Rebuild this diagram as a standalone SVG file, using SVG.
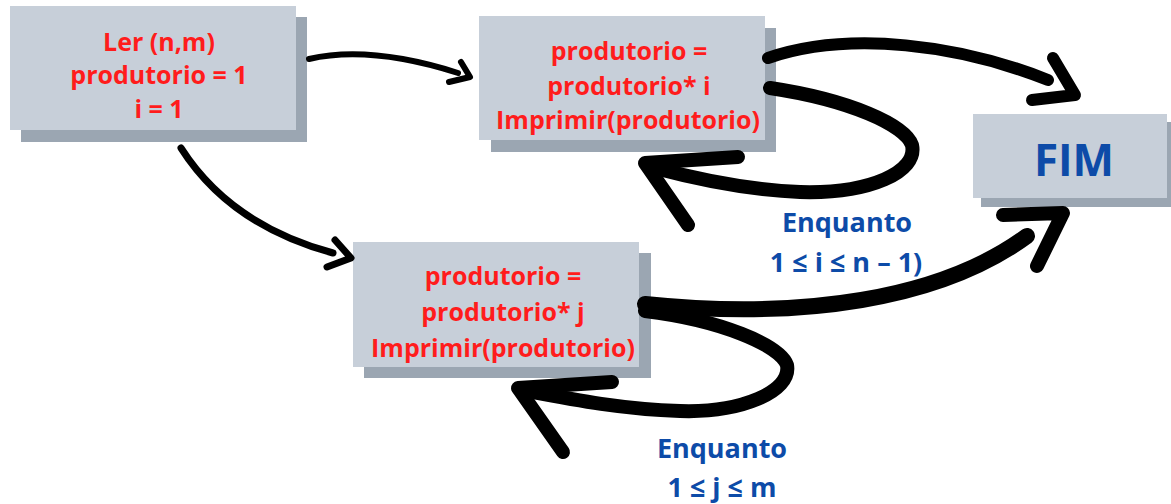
<svg xmlns="http://www.w3.org/2000/svg" width="1171" height="504" viewBox="0 0 1171 504">
  <style>
    .shadow { fill: #9ba6b2; }
    .card { fill: #c7cfd9; }
    .step { font-family: "Open Sans", "Liberation Sans", sans-serif; font-weight: 700; font-size: 25px; fill: #ff1c1c; text-anchor: middle; }
    .cond { font-family: "Open Sans", "Liberation Sans", sans-serif; font-weight: 700; font-size: 27px; fill: #0d4ba8; text-anchor: middle; }
    .end { font-family: "Open Sans", "Liberation Sans", sans-serif; font-weight: 700; font-size: 44px; fill: #0d4ba8; text-anchor: middle; }
    .ink { fill: none; stroke: #000; stroke-linecap: round; stroke-linejoin: round; }
  </style>
  <rect width="1171" height="504" fill="#fff"/>

  <!-- start block -->
  <g id="inicio">
    <rect class="shadow" x="21" y="17" width="286" height="125"/>
    <rect class="card" x="10" y="6" width="286" height="124"/>
    <text class="step" x="159" y="51">Ler (n,m)</text>
    <text class="step" x="159" y="84">produtorio = 1</text>
    <text class="step" x="159" y="118">i = 1</text>
  </g>

  <!-- loop over i -->
  <g id="loop-i">
    <rect class="shadow" x="491" y="28" width="285" height="124"/>
    <rect class="card" x="479" y="16" width="286" height="124"/>
    <text class="step" x="629" y="60">produtorio =</text>
    <text class="step" x="629" y="95">produtorio* i</text>
    <text class="step" x="628" y="129">Imprimir(produtorio)</text>
  </g>

  <!-- loop over j -->
  <g id="loop-j">
    <rect class="shadow" x="364" y="253" width="287" height="125"/>
    <rect class="card" x="353" y="242" width="286" height="125"/>
    <text class="step" x="503" y="285">produtorio =</text>
    <text class="step" x="503" y="321">produtorio* j</text>
    <text class="step" x="503" y="357">Imprimir(produtorio)</text>
  </g>

  <!-- end block -->
  <g id="fim">
    <rect class="shadow" x="981" y="122" width="194" height="85"/>
    <rect class="card" x="973" y="114" width="194" height="84"/>
    <text class="end" x="1074" y="176">FIM</text>
  </g>

  <!-- loop conditions -->
  <g id="cond-i">
    <text class="cond" x="847" y="232">Enquanto</text>
    <text class="cond" x="846" y="272">1 ≤ i ≤ n – 1)</text>
  </g>
  <g id="cond-j">
    <text class="cond" x="722" y="458">Enquanto</text>
    <text class="cond" x="722" y="497">1 ≤ j ≤ m</text>
  </g>

  <!-- brush-stroke connectors -->
  <g id="connectors">
    <path class="ink" stroke-width="6" d="M309,59 Q370,45 458,73"/>
    <path class="ink" stroke-width="6" d="M461,62 L470,77 L449,82"/>

    <path class="ink" stroke-width="7" d="M181,148 Q230,225 333,253"/>
    <path class="ink" stroke-width="7" d="M335,240 L351,258 L327,267"/>

    <path class="ink" stroke-width="12" d="M768,58 C850,30 960,45 1048,80"/>
    <path class="ink" stroke-width="12" d="M1053,58 L1075,95 L1032,100"/>

    <path class="ink" stroke-width="14" d="M770,88 C850,100 905,125 912,145 C918,172 870,194 800,192 C750,190 700,180 655,168"/>
    <path class="ink" stroke-width="14" d="M738,157 L645,163 L688,225"/>

    <path class="ink" stroke-width="14" d="M645,311 C720,320 780,345 787,365 C792,392 740,413 680,411 C620,409 570,399 522,390"/>
    <path class="ink" stroke-width="14" d="M612,382 L518,388 L563,452"/>

    <path class="ink" stroke-width="16" d="M645,304 C800,320 940,300 1027,236"/>
    <path class="ink" stroke-width="14" d="M1003,215 L1063,213 L1037,266"/>
  </g>
</svg>
